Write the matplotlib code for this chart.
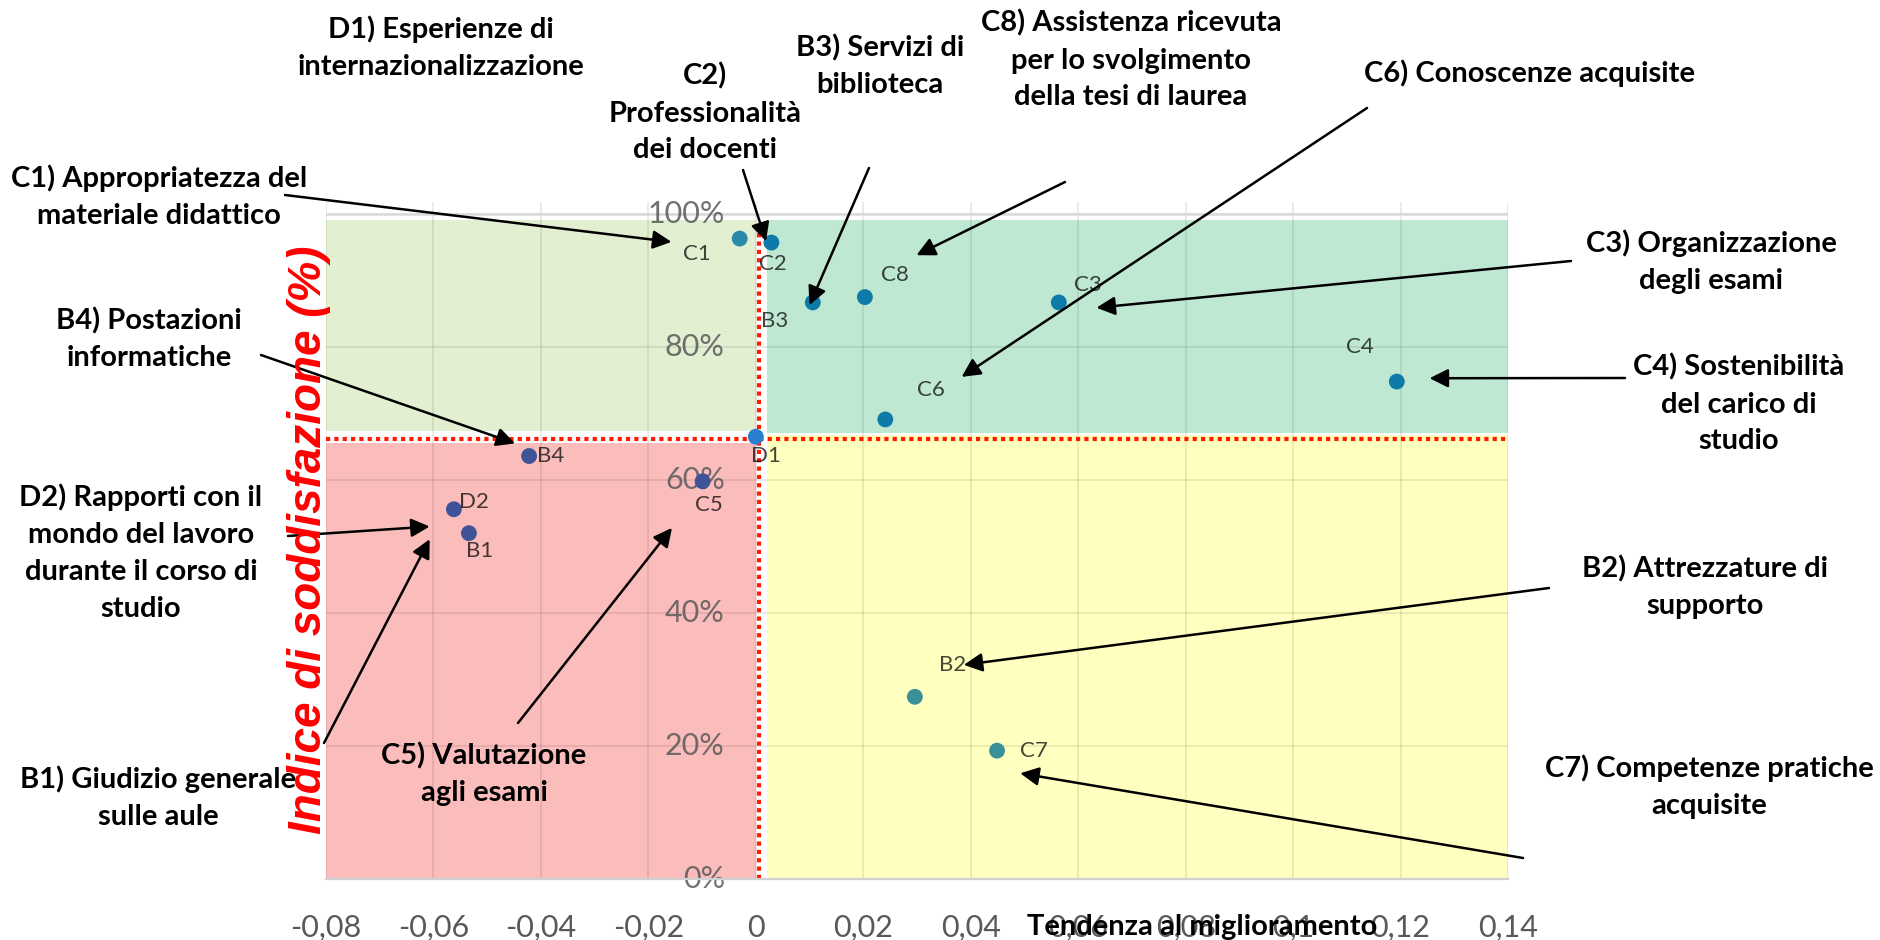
import matplotlib
matplotlib.use("Agg")
import matplotlib.pyplot as plt

# --- data ---
codes = ["B1", "B2", "B3", "B4", "C1", "C2", "C3", "C4", "C5", "C6", "C7", "C8", "D1", "D2"]
trend = [-0.0534, 0.0296, 0.0106, -0.0422, -0.0030, 0.0029, 0.0564, 0.1193,
         -0.0099, 0.0241, 0.0449, 0.0203, 0.0000, -0.0562]
satisfaction = [0.520, 0.274, 0.867, 0.636, 0.963, 0.957, 0.867, 0.748,
                0.598, 0.691, 0.193, 0.875, 0.665, 0.556]

x_ticks = [-0.08, -0.06, -0.04, -0.02, 0, 0.02, 0.04, 0.06, 0.08, 0.1, 0.12, 0.14]
x_tick_labels = ["-0,08", "-0,06", "-0,04", "-0,02", "0", "0,02", "0,04", "0,06",
                 "0,08", "0,1", "0,12", "0,14"]
y_ticks = [0, 0.2, 0.4, 0.6, 0.8, 1.0]
y_tick_labels = ["0%", "20%", "40%", "60%", "80%", "100%"]

callout_texts = {
    "D1": "D1) Esperienze di\ninternazionalizzazione",
    "C2": "C2)\nProfessionalità\ndei docenti",
    "B3": "B3) Servizi di\nbiblioteca",
    "C8": "C8) Assistenza ricevuta\nper lo svolgimento\ndella tesi di laurea",
    "C6": "C6) Conoscenze acquisite",
    "C1": "C1) Appropriatezza del\nmateriale didattico",
    "B4": "B4) Postazioni\ninformatiche",
    "C3": "C3) Organizzazione\ndegli esami",
    "C4": "C4) Sostenibilità\ndel carico di\nstudio",
    "D2": "D2) Rapporti con il\nmondo del lavoro\ndurante il corso di\nstudio",
    "B1": "B1) Giudizio generale\nsulle aule",
    "C5": "C5) Valutazione\nagli esami",
    "B2": "B2) Attrezzature di\nsupporto",
    "C7": "C7) Competenze pratiche\nacquisite",
}

# quadrant thresholds
x_split = 0.0006
y_split = 0.662

# --- layout (figure pixels, measured top-down) ---
W, H = 1880, 940
ax_left, ax_right, ax_top, ax_bottom = 326, 1508, 202, 879

# text centre (x, y) ; arrow start (x, y) in px ; arrow tip in data coords
callout_layout = {
    "D1": ((441, 48), None, None),
    "C2": ((705, 113), (743, 170), (0.0019, 0.959)),
    "B3": ((880, 66), (869, 168), (0.0100, 0.863)),
    "C8": ((1131, 60), (1065, 182), (0.0299, 0.938)),
    "C6": ((1529, 73), (1367, 108), (0.0383, 0.755)),
    "C1": ((159, 197), (285, 195), (-0.0157, 0.958)),
    "B4": ((149, 339), (261, 355), (-0.0448, 0.655)),
    "C3": ((1711, 262), (1571, 261), (0.0634, 0.859)),
    "C4": ((1739, 404), (1625, 378), (0.1254, 0.753)),
    "D2": ((141, 553), (288, 536), (-0.0607, 0.530)),
    "B1": ((158, 798), (324, 743), (-0.0607, 0.511)),
    "C5": ((484, 774), (518, 723), (-0.0156, 0.528)),
    "B2": ((1705, 587), (1549, 588), (0.0387, 0.322)),
    "C7": ((1709, 787), (1523, 858), (0.0492, 0.159)),
}

# label offsets from each point, in pixels (x right, y up)
label_offsets = {
    "B1": (11, -18), "B2": (38, 32), "B3": (-38, -19), "B4": (22, 0),
    "C1": (-43, -15), "C2": (1, -21), "C3": (29, 17), "C4": (-37, 35),
    "C5": (6, -24), "C6": (46, 29), "C7": (37, 0), "C8": (30, 22),
    "D1": (10, -19), "D2": (20, 7),
}

point_colors = {
    "B1": "#3F5498", "B2": "#3A9097", "B3": "#0E7AAA", "B4": "#3F5498",
    "C1": "#2A8AAA", "C2": "#0E7AAA", "C3": "#0E7AAA", "C4": "#0E7AAA",
    "C5": "#3F5498", "C6": "#0E7AAA", "C7": "#3A9097", "C8": "#0E7AAA",
    "D1": "#2B7FD0", "D2": "#3F5498",
}

BOLD_FONT = ["Lato", "DejaVu Sans"]
TICK_FONT = ["Lato", "DejaVu Sans"]

fig = plt.figure(figsize=(W / 100, H / 100), dpi=100)
ax = fig.add_axes([ax_left / W, 1 - ax_bottom / H,
                   (ax_right - ax_left) / W, (ax_bottom - ax_top) / H])
ax.set_xlim(-0.08, 0.14)
ax.set_ylim(0, 1.018)

# quadrant backgrounds
ax.fill_between([-0.08, 0.0], 0.674, 0.991, color="#E2EFD0", lw=0, zorder=0)
ax.fill_between([0.002, 0.14], 0.670, 0.991, color="#BFE8D2", lw=0, zorder=0)
ax.fill_between([-0.08, 0.0], 0.0, 0.656, color="#FBBCBC", lw=0, zorder=0)
ax.fill_between([0.002, 0.14], 0.0, 0.668, color="#FFFFC0", lw=0, zorder=0)

# grid
for xt in x_ticks:
    ax.axvline(xt, color="black", alpha=0.1, lw=1.1, zorder=1)
for yt in y_ticks[1:]:
    ax.axhline(yt, color="black", alpha=0.1, lw=1.1, zorder=1)
ax.axhline(1.0, color="#D9D9D9", lw=1.8, zorder=1)

for side in ["top", "right", "left"]:
    ax.spines[side].set_visible(False)
ax.spines["bottom"].set_color("#D0D0D0")
ax.spines["bottom"].set_linewidth(1.6)

# red dotted thresholds
ax.plot([-0.08, 0.14], [y_split, y_split], color="#FF1A00", lw=3, ls=(0, (1, 1)), zorder=2)
ax.plot([x_split, x_split], [0, 0.976], color="#FF1A00", lw=3, ls=(0, (1, 1)), zorder=2)

# ticks
ax.set_xticks(x_ticks)
ax.set_xticklabels(x_tick_labels, fontsize=22, color="#595959", family=TICK_FONT)
ax.tick_params(axis="x", length=0, pad=25)
ax.set_yticks([])
for yt, lab in zip(y_ticks, y_tick_labels):
    ax.annotate(lab, (0, yt), xytext=(-31, 0), textcoords="offset pixels",
                ha="right", va="center", fontsize=22, color="#595959",
                alpha=0.85, family=TICK_FONT, zorder=1.5)

# points and their short labels
ax.scatter(trend, satisfaction, s=130, c=[point_colors[c] for c in codes],
           linewidths=0, zorder=3)
for code, xv, yv in zip(codes, trend, satisfaction):
    ax.annotate(code, (xv, yv), xytext=label_offsets[code], textcoords="offset pixels",
                ha="center", va="center", fontsize=16, color="black", alpha=0.72,
                family=TICK_FONT, zorder=4)

# callouts with arrows
for code, ((tx, ty), start, tip) in callout_layout.items():
    fig.text(tx / W, 1 - ty / H, callout_texts[code], ha="center", va="center",
             multialignment="center", fontsize=21, fontweight="bold",
             family=BOLD_FONT, linespacing=1.52)
    if tip is not None:
        ax.annotate("", xy=tip, xycoords="data",
                    xytext=(start[0], H - start[1]), textcoords="figure pixels",
                    arrowprops=dict(arrowstyle="-|>", color="black", lw=1.8,
                                    mutation_scale=28, shrinkA=0, shrinkB=0),
                    annotation_clip=False, zorder=5)

# axis titles
fig.text(1202 / W, 1 - 927 / H, "Tendenza al miglioramento", ha="center", va="center",
         fontsize=21, fontweight="bold", family=BOLD_FONT)
fig.text(309 / W, 1 - 540 / H, "Indice di soddisfazione (%)", rotation=90,
         ha="center", va="center", fontsize=33, fontweight="bold", style="italic",
         color="#FF0000", family=["Liberation Sans", "DejaVu Sans"])

fig.savefig("out.png", dpi=100)
